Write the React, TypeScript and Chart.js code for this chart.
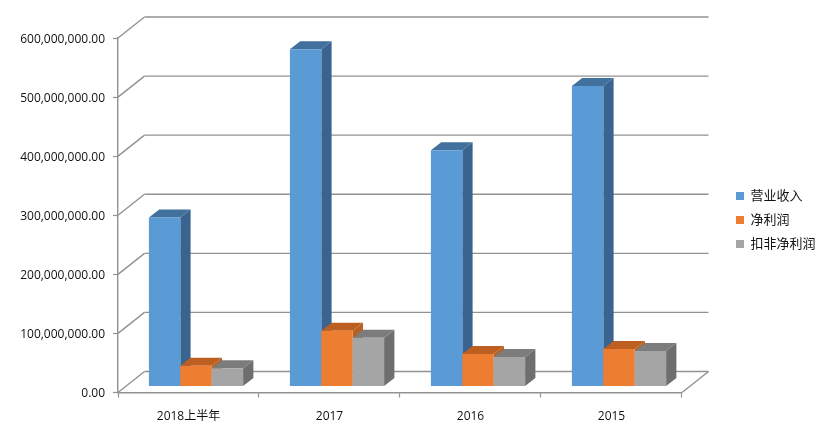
import React, { useEffect, useRef } from "react";
import { Chart, registerables } from "chart.js";

Chart.register(...registerables);

const categories = ["2018上半年", "2017", "2016", "2015"];
const revenue = [286000000, 571000000, 400000000, 508500000];
const netProfit = [35000000, 94500000, 55000000, 63500000];
const adjustedProfit = [31000000, 82500000, 50000000, 60000000];
const seriesNames = ["营业收入", "净利润", "扣非净利润"];
const frontColors = ["#5B9BD5", "#ED7D31", "#A5A5A5"];
const sideColors = ["#3A638F", "#B85F22", "#6E6E6E"];
const topColors = ["#41719C", "#BC5F20", "#7C7C7C"];

const FONT = '"Open Sans","Noto Sans CJK SC",sans-serif';
const LINE = "#929292";
const TEXT = "#111111";
const WALL = { dx: 26.5, dy: 21 };
const BAR_PLANE = { dx: 7.5, dy: 6 };
const BAR_DEPTH = { dx: 10.3, dy: 8 };

const poly = (ctx: CanvasRenderingContext2D, pts: number[][], color: string) => {
  ctx.fillStyle = color;
  ctx.beginPath();
  pts.forEach(([x, y], i) => (i ? ctx.lineTo(x, y) : ctx.moveTo(x, y)));
  ctx.closePath();
  ctx.fill();
};

const threeD = {
  id: "threeD",
  afterLayout(chart: any) {
    const lg = chart.legend;
    lg.left = 725;
    lg.right = lg.left + lg.width;
    lg.top -= 18;
    lg.bottom -= 18;
  },
  beforeDraw(chart: any) {
    chart.scales.y.getLabelItems().forEach((item: any) => {
      item.options.translation[1] += 1.5;
    });
  },
  beforeDatasetsDraw(chart: any) {
    const { ctx, chartArea: a, scales } = chart;
    ctx.save();
    ctx.strokeStyle = LINE;
    ctx.lineWidth = 1.4;
    const seg = (x1: number, y1: number, x2: number, y2: number) => {
      ctx.beginPath();
      ctx.moveTo(x1, y1);
      ctx.lineTo(x2, y2);
      ctx.stroke();
    };
    scales.y.ticks.forEach((_: any, i: number) => {
      const y = scales.y.getPixelForTick(i);
      seg(a.left, y, a.left + WALL.dx, y - WALL.dy);
      seg(a.left + WALL.dx, y - WALL.dy, a.right + WALL.dx, y - WALL.dy);
    });
    seg(a.right, a.bottom, a.right + WALL.dx, a.bottom - WALL.dy);
    ctx.restore();

    // Draw series left to right so each bar's front covers its neighbour's side.
    [0, 1, 2].forEach((i) => {
      const meta = chart.getDatasetMeta(i);
      ctx.save();
      ctx.translate(BAR_PLANE.dx, -BAR_PLANE.dy);
      meta.data.forEach((bar: any) => {
        const r = bar.x + bar.width / 2;
        const l = bar.x - bar.width / 2;
        const { dx, dy } = BAR_DEPTH;
        poly(ctx, [[r, bar.y], [r + dx, bar.y - dy], [r + dx, bar.base - dy], [r, bar.base]], sideColors[i]);
        poly(ctx, [[l, bar.y], [l + dx, bar.y - dy], [r + dx, bar.y - dy], [r, bar.y]], topColors[i]);
      });
      meta.controller.draw();
      ctx.restore();
    });
    return false;
  },
};

export default function App() {
  const ref = useRef<HTMLCanvasElement>(null);
  useEffect(() => {
    document.body.style.margin = "0";
    const data = [revenue, netProfit, adjustedProfit];
    const chart = new Chart(ref.current as HTMLCanvasElement, {
      type: "bar",
      data: {
        labels: categories,
        datasets: data.map((values, i) => ({
          label: seriesNames[i],
          data: values,
          backgroundColor: frontColors[i],
          categoryPercentage: 0.668,
          barPercentage: 1,
        })),
      },
      options: {
        animation: false,
        responsive: false,
        devicePixelRatio: 1,
        layout: { padding: { top: 38, right: 43.5, bottom: 0, left: 0 } },
        plugins: {
          tooltip: { enabled: false },
          title: { display: false },
          legend: {
            position: "right",
            labels: {
              boxWidth: 8,
              boxHeight: 8,
              padding: 11,
              color: TEXT,
              font: { family: FONT, size: 13 },
            },
          },
        },
        scales: {
          x: {
            afterFit: (s: any) => {
              s.height = 45.5;
            },
            grid: {
              offset: true,
              drawOnChartArea: false,
              tickLength: 5,
              tickColor: LINE,
              tickWidth: 1.2,
            },
            border: { color: LINE, width: 1.4 },
            ticks: { color: TEXT, padding: 12, maxRotation: 0, font: { family: FONT, size: 12 } },
          },
          y: {
            min: 0,
            max: 600000000,
            afterFit: (s: any) => {
              s.width = 118;
            },
            grid: {
              drawOnChartArea: false,
              tickLength: 5,
              tickColor: LINE,
              tickWidth: 1.2,
            },
            border: { color: LINE, width: 1.4 },
            ticks: {
              stepSize: 100000000,
              color: TEXT,
              padding: 8,
              font: { family: FONT, size: 12 },
              callback: (v: any) =>
                Number(v).toLocaleString("en-US", { minimumFractionDigits: 2, maximumFractionDigits: 2 }),
            },
          },
        },
      },
      plugins: [threeD],
    } as any);
    return () => chart.destroy();
  }, []);
  return (
    <div style={{ position: "absolute", left: 0, top: 0, width: 826, height: 438 }}>
      <canvas ref={ref} width={826} height={438} style={{ display: "block" }} />
    </div>
  );
}
